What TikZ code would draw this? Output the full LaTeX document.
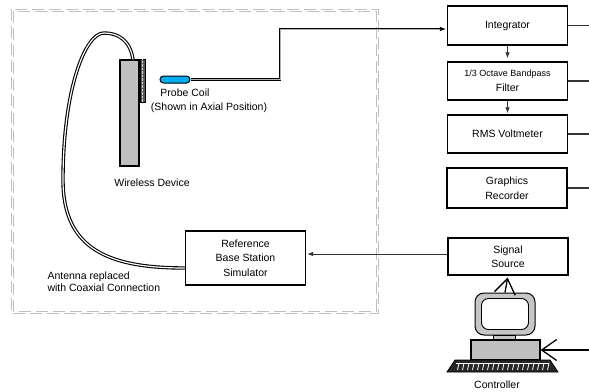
\documentclass[tikz,border=0pt]{standalone}
\usepackage{fontspec}
\setmainfont{Liberation Sans}
\usetikzlibrary{arrows.meta}

\tikzset{
  block/.style={draw, line width=1.2pt, minimum width=120pt, minimum height=38pt, align=center, inner sep=1pt},
  link/.style={draw=black!80, line width=0.9pt},
  tip/.style={-{Latex[length=6pt,width=4.5pt]}},
  wire/.style={draw=black, line width=0.8pt, double=gray!60, double distance=0.6pt},
  barb/.style={-{Straight Barb[length=15pt,width=21pt]}, line width=1.3pt},
  zone/.style={draw=gray!50, line width=0.7pt, dash pattern=on 12pt off 5pt},
}

\begin{document}
\begin{tikzpicture}[x=1pt, y=-1pt, font=\fontsize{10.5}{14.5}\selectfont]
    \useasboundingbox (0,0) rectangle (589,391);
    \draw[zone] (11,9) rectangle (378,313);
    \draw[zone] (13,11) rectangle (376,311);

    % measuring chain
    \node[block, minimum height=39pt] (int) at (507.5,25.5) {Integrator};
    \node[block] (filt) at (507.5,81) {{\fontsize{9}{13}\selectfont 1/3 Octave Bandpass}\\Filter};
    \node[block] (rms) at (507.5,134) {RMS Voltmeter};
    \node[block, minimum height=40pt] (rec) at (507,188) {Graphics\\Recorder};
    \node[block, minimum height=37pt] (sig) at (508,256.5) {Signal\\Source};
    \node[block, minimum height=54pt] (ref) at (245.5,258) {Reference\\Base Station\\Simulator};
    \coordinate (bus) at (589,0);

    \draw[link, tip, shorten >=3pt] (int.south) -- (filt.north);
    \draw[link, tip, shorten >=1pt] (filt.south) -- (rms.north);
    \draw[link, tip, shorten >=1pt] (sig.west |- 0,254) -- (ref.east |- 0,254);
    \foreach \b in {int, filt, rms, rec}
        \draw[link, line width=1.1pt] (\b.east) -- (\b.east -| bus);

    % wireless device and probe
    \node[draw, line width=1.2pt, fill=gray!50, minimum width=19pt, minimum height=106pt, inner sep=0pt] (dev) at (129.5,113) {};
    \node[anchor=north west, draw, line width=0.8pt, fill=gray!70!black, minimum width=5pt, minimum height=43pt, inner sep=0pt] (disp) at (dev.north east) {};
    \draw[gray!30, densely dotted] (disp.north) -- (disp.south);
    \node[draw, line width=1pt, fill=cyan, rounded corners=3.5pt, minimum width=30pt, minimum height=7pt, inner sep=0pt] (probe) at (175,79.5) {};
    \draw[wire, tip, shorten >=1pt] (probe.east) -- (280,79.5) -- (280,29) -- (int.west |- 0,29);
    \draw[wire, line width=1.1pt, double=white, double distance=1.2pt] (dev.north -| 133,0) .. controls (130,40) and (118,33) .. (104,33)
        .. controls (85,33) and (63,90) .. (63,180) .. controls (63,250) and (110,268) .. (ref.west |- 0,268);

    \node (coil) at (185,93) {Probe Coil};
    \node (axial) at (209,108) {(Shown in Axial Position)};
    \node (devlbl) at (152,183) {Wireless Device};
    \node[anchor=west, align=left, font=\fontsize{10.5}{12}\selectfont] (ant) at (44,282) {Antenna replaced\\with Coaxial Connection};

    % controller
    \node[draw, line width=1pt, fill=gray!45, rounded corners=9pt, minimum width=60pt, minimum height=42pt, inner sep=0pt] (mon) at (505,314) {};
    \node[draw, line width=0.9pt, fill=white, rounded corners=7pt, minimum width=47pt, minimum height=31pt, inner sep=0pt] (scr) at (mon.center) {};
    \node[draw, line width=0.9pt, fill=gray!45, minimum width=22pt, minimum height=5pt, inner sep=0pt] (neck) at (504,337.5) {};
    \node[draw, line width=1.1pt, fill=gray!50, minimum width=69pt, minimum height=20pt, inner sep=0pt] (cbase) at (505.5,350) {};
    \draw[line width=0.8pt, fill=black!85] (447,372) -- (558,372) -- (550,360) -- (455,360) -- cycle;
    \foreach \k in {0,...,18}
        \draw[white, line width=0.8pt] (459+5*\k,363) -- (457.5+5*\k,370);
    \draw[white, line width=0.7pt] (456,363) -- (549,363);
    \node (ctl) at (497,385) {Controller};
    \coordinate (cin) at (589,350);

    \draw[barb, shorten >=2pt] (mon.north) -- (sig.south);
    \draw[barb] (cin) -- (cbase.east);
\end{tikzpicture}
\end{document}
